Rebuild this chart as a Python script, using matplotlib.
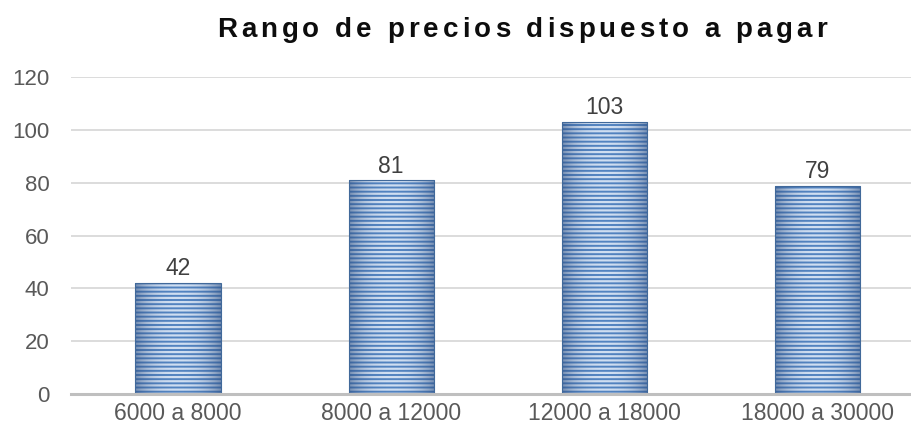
import numpy as np
import matplotlib
matplotlib.use("Agg")
import matplotlib.pyplot as plt

categories = ["6000 a 8000", "8000 a 12000", "12000 a 18000", "18000 a 30000"]
values = [42, 81, 103, 79]
title = "Rango de precios dispuesto a pagar"

plt.rcParams["font.family"] = ["Liberation Sans", "DejaVu Sans"]
plt.rcParams["hatch.linewidth"] = 1.6

W, H = 912, 437
fig = plt.figure(figsize=(W / 100, H / 100), dpi=100)
# plot area: left 71.5px, bottom 43px, runs past the right edge
ax = fig.add_axes([71.5 / W, 43 / H, 852.5 / W, 316.6 / H])

x = np.arange(len(categories))
width = 0.4

base = ax.bar(x, values, width, color="#5283C0", linewidth=0, zorder=2)
ax.bar(x, values, width, color="none", edgecolor="#CFDEF1", hatch="----",
       linewidth=0, zorder=3)

# darker shading toward the sides of each bar
shade = np.abs(np.linspace(-1, 1, 64)) ** 2.5
rgba = np.zeros((1, 64, 4))
rgba[..., 0], rgba[..., 1], rgba[..., 2] = 0.17, 0.30, 0.50
rgba[..., 3] = shade * 0.55
for rect in base:
    x0, w, h = rect.get_x(), rect.get_width(), rect.get_height()
    im = ax.imshow(rgba, extent=(x0, x0 + w, 0, h), aspect="auto",
                   interpolation="bilinear", zorder=4)
    im.set_clip_path(rect)

ax.bar(x, values, width, color="none", edgecolor="#41699A", linewidth=0.8,
       zorder=5)

for xi, v in zip(x, values):
    ax.annotate(str(v), (xi, v), xytext=(0, 2), textcoords="offset points",
                ha="center", va="bottom", fontsize=16.5, color="#404040")

ax.set_xlim(-0.5, len(categories) - 0.5)
ax.set_ylim(0, 120)
ax.set_yticks(range(0, 121, 20))
ax.set_xticks(x)
ax.set_xticklabels(categories)
ax.tick_params(axis="y", length=0, pad=16, labelsize=16, labelcolor="#595959")
ax.tick_params(axis="x", length=0, pad=6, labelsize=16.5, labelcolor="#595959")
ax.grid(axis="y", color="#D9D9D9", linewidth=1.3, zorder=0)
ax.set_axisbelow(True)
for side in ["top", "right", "left"]:
    ax.spines[side].set_visible(False)
ax.spines["bottom"].set_color("#BFBFBF")
ax.spines["bottom"].set_linewidth(2.2)
ax.spines["bottom"].set_zorder(6)

# title with wide letter spacing, placed one character at a time
renderer = fig.canvas.get_renderer()
prop = matplotlib.font_manager.FontProperties(family="Liberation Sans",
                                              weight="bold", size=20)
spacing = 4.0
widths = [renderer.get_text_width_height_descent(ch, prop, ismath=False)[0]
          for ch in title]
total = sum(widths) + spacing * (len(title) - 1)
cx = 522 - total / 2
for ch, w in zip(title, widths):
    fig.text(cx / W, 1 - 37 / H, ch, fontproperties=prop, color="#0D0D0D",
             ha="left", va="baseline")
    cx += w + spacing

fig.savefig("out.png", dpi=100)
